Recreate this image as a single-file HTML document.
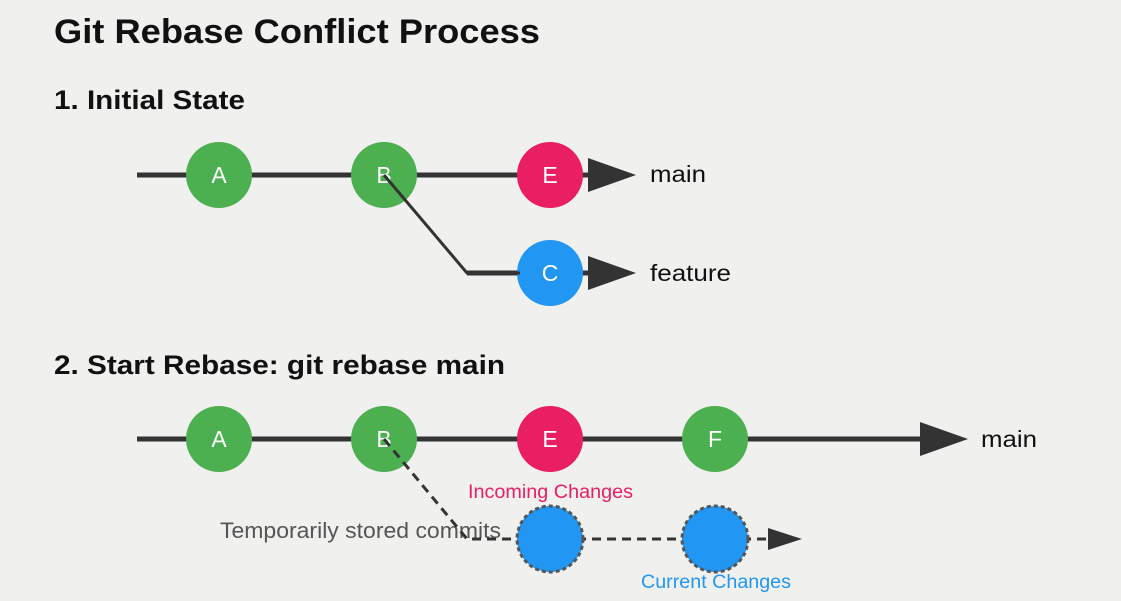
<!DOCTYPE html>
<html><head><style>
body{margin:0;background:#f0f0ee;width:1121px;height:596px;overflow:hidden;font-family:"Liberation Sans",Arial,sans-serif}
</style></head><body>
<svg width="1121" height="596" xmlns="http://www.w3.org/2000/svg" font-family="Liberation Sans, Arial, sans-serif">
<rect width="1121" height="596" fill="#f0f0ee"/>
<text x="54" y="43" font-size="34" font-weight="bold" fill="#111" textLength="486" lengthAdjust="spacingAndGlyphs">Git Rebase Conflict Process</text>
<text x="54" y="109" font-size="27" font-weight="bold" fill="#111" textLength="191" lengthAdjust="spacingAndGlyphs">1. Initial State</text>
<text x="54" y="374" font-size="27" font-weight="bold" fill="#111" textLength="451" lengthAdjust="spacingAndGlyphs">2. Start Rebase: git rebase main</text>
<!-- row 1 -->
<line x1="137" y1="175" x2="600" y2="175" stroke="#333" stroke-width="5"/>
<polygon points="588,158 636,175 588,192" fill="#333"/>
<line x1="467" y1="273" x2="600" y2="273" stroke="#333" stroke-width="5"/>
<polygon points="588,256 636,273 588,290" fill="#333"/>
<g font-size="23" fill="#fff" text-anchor="middle">
<circle cx="219" cy="175" r="33" fill="#4caf50"/><text x="219" y="183">A</text>
<circle cx="384" cy="175" r="33" fill="#4caf50"/><text x="384" y="183">B</text>
<circle cx="550" cy="175" r="33" fill="#e91e63"/><text x="550" y="183">E</text>
<circle cx="550" cy="273" r="33" fill="#2196f3"/><text x="550" y="281">C</text>
</g>
<polyline points="384,175 467,273 520,273" fill="none" stroke="#333" stroke-width="3"/>
<text x="650" y="182" font-size="23" fill="#111" textLength="56" lengthAdjust="spacingAndGlyphs">main</text>
<text x="650" y="281" font-size="23" fill="#111" textLength="81" lengthAdjust="spacingAndGlyphs">feature</text>
<!-- row 2 -->
<line x1="137" y1="439" x2="930" y2="439" stroke="#333" stroke-width="5"/>
<polygon points="920,422 968,439 920,456" fill="#333"/>
<text x="981" y="447" font-size="23" fill="#111" textLength="56" lengthAdjust="spacingAndGlyphs">main</text>
<g font-size="23" fill="#fff" text-anchor="middle">
<circle cx="219" cy="439" r="33" fill="#4caf50"/><text x="219" y="447">A</text>
<circle cx="384" cy="439" r="33" fill="#4caf50"/><text x="384" y="447">B</text>
<circle cx="550" cy="439" r="33" fill="#e91e63"/><text x="550" y="447">E</text>
<circle cx="715" cy="439" r="33" fill="#4caf50"/><text x="715" y="447">F</text>
</g>
<text x="220" y="538" font-size="22" fill="#555" textLength="281" lengthAdjust="spacingAndGlyphs">Temporarily stored commits</text>
<polyline points="384,439 467,539 775,539" fill="none" stroke="#333" stroke-width="3" stroke-dasharray="9,6"/>
<polygon points="768,528 802,539 768,550" fill="#333"/>
<circle cx="550" cy="539" r="33" fill="#2196f3" stroke="#555" stroke-width="3" stroke-dasharray="4,3"/>
<circle cx="715" cy="539" r="33" fill="#2196f3" stroke="#555" stroke-width="3" stroke-dasharray="4,3"/>
<text x="468" y="498" font-size="19" fill="#e91e63" textLength="165" lengthAdjust="spacingAndGlyphs">Incoming Changes</text>
<text x="641" y="588" font-size="19" fill="#2196f3" textLength="150" lengthAdjust="spacingAndGlyphs">Current Changes</text>
</svg>
</body></html>
